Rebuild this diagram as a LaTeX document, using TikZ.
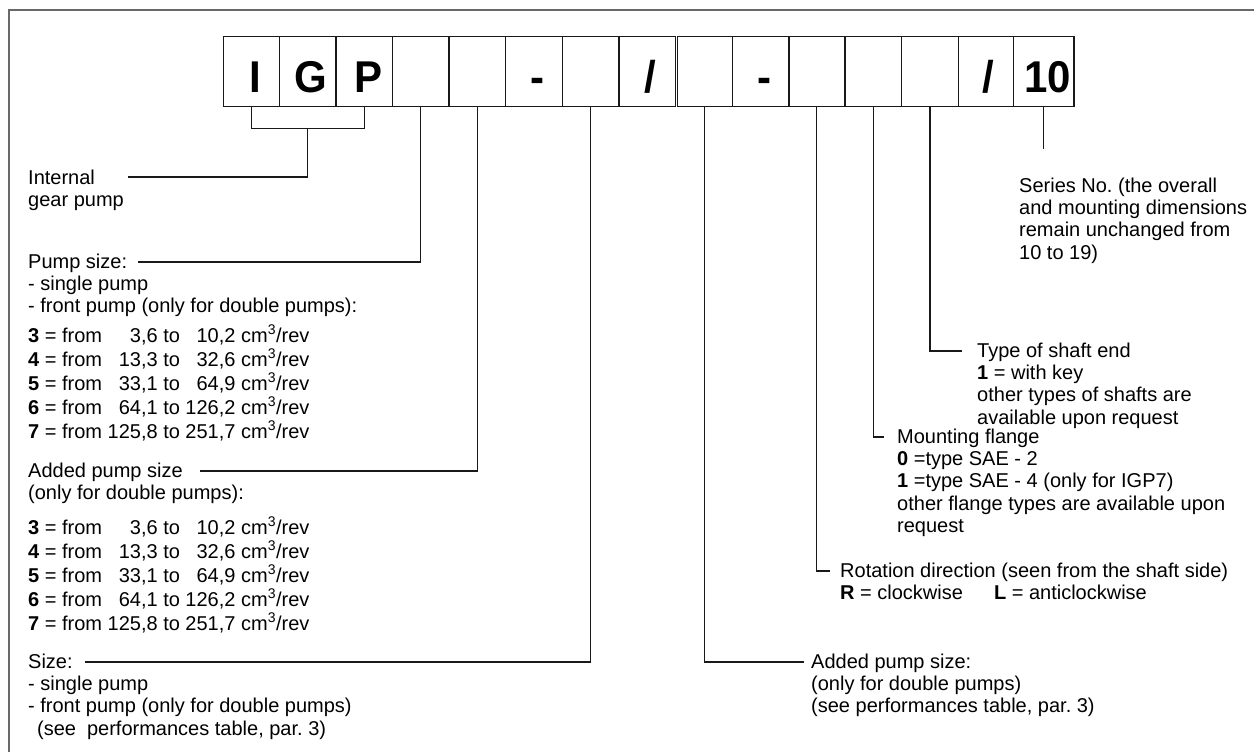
\documentclass[tikz,border=0pt]{standalone}
\usepackage{fontspec}
\setmainfont{Liberation Sans}
\usetikzlibrary{calc}
\frenchspacing
\newcommand\lbfont{\fontsize{20}{22.4}\selectfont}
\newcommand\bgfont{\fontsize{42}{42}\selectfont\bfseries}
\newcommand\bigtxt[1]{\scalebox{1}[1.06]{#1}}
\definecolor{framegray}{RGB}{105,105,105}
\definecolor{ink}{RGB}{25,25,25}
\begin{document}
\begin{tikzpicture}[x=1pt,y=-1pt,
  cell/.style={draw=ink,line width=1.2pt,minimum height=70pt,inner sep=0pt,anchor=north west},
  big/.style={anchor=base,inner sep=0pt,font=\bgfont},
  lbl/.style={anchor=base west,inner sep=0pt,font=\lbfont,align=left},
  conn/.style={draw=ink,line width=1.1pt}]
\useasboundingbox (0,0) rectangle (1254,752);
\draw[framegray,line width=2pt] (9,10) rectangle (1270,770);
% cells
\foreach \n/\a/\b in {1/222.7/279,2/279/335.3,3/335.3/392,4/392/448.3,5/448.3/505,6/505/561.7,7/561.7/618.3,8/618.3/675,9/676.7/731.7,10/731.7/788.3,11/788.3/844.3,12/844.3/901,13/901/957.7,14/957.7/1012.7,15/1012.7/1073.3}
  {\pgfmathsetmacro\w{\b-\a}\node[cell,minimum width=\w pt] (c\n) at (\a,36) {};}
\node[big] (t1) at ($(c1.center)+(4,20.7)$) {\bigtxt{I}};
\node[big] (t2) at ($(c2.center)+(3,20.7)$) {\bigtxt{G}};
\node[big] (t3) at ($(c3.center)+(4,20.7)$) {\bigtxt{P}};
\node[big] (t6) at ($(c6.center)+(4,20.7)$) {\bigtxt{-}};
\node[big] (t8) at ($(c8.center)+(3.5,20.7)$) {\bigtxt{/}};
\node[big] (t10) at ($(c10.center)+(4,20.7)$) {\bigtxt{-}};
\node[big] (t14) at ($(c14.center)+(3,20.7)$) {\bigtxt{/}};
\node[big] (t15) at ($(c15.center)+(4,20.7)$) {\bigtxt{10}};
% left texts
\node[lbl] (igp) at (28,184) {\begin{tabular}[t]{@{}l@{}}Internal\\gear pump\end{tabular}};
\node[lbl] (psz) at (28,268) {\begin{tabular}[t]{@{}l@{}}Pump size:\\- single pump\\- front pump (only for double pumps):\end{tabular}};
\node[lbl] (lst1) at (28,342) {\begin{tabular}[t]{@{}l@{~}r@{~to~}r@{~cm\textsuperscript{3}/rev}@{}}
\textbf{3} = from & 3,6 & 10,2\\ \textbf{4} = from & 13,3 & 32,6\\ \textbf{5} = from & 33,1 & 64,9\\
\textbf{6} = from & 64,1 & 126,2\\ \textbf{7} = from & 125,8 & 251,7\end{tabular}};
\node[lbl] (apz) at (28,477) {\begin{tabular}[t]{@{}l@{}}Added pump size\\(only for double pumps):\end{tabular}};
\node[lbl] (lst2) at (28,534) {\begin{tabular}[t]{@{}l@{~}r@{~to~}r@{~cm\textsuperscript{3}/rev}@{}}
\textbf{3} = from & 3,6 & 10,2\\ \textbf{4} = from & 13,3 & 32,6\\ \textbf{5} = from & 33,1 & 64,9\\
\textbf{6} = from & 64,1 & 126,2\\ \textbf{7} = from & 125,8 & 251,7\end{tabular}};
\node[lbl] (sz) at (28,668) {\begin{tabular}[t]{@{}l@{}}Size:\\- single pump\\- front pump (only for double pumps)\\\hspace{9pt}(see\hspace{11pt}performances table, par. 3)\end{tabular}};
% right texts
\node[lbl] (ser) at (1019,192) {\begin{tabular}[t]{@{}l@{}}Series No. (the overall\\and mounting dimensions\\remain unchanged from\\10 to 19)\end{tabular}};
\node[lbl] (sh) at (977,357) {\begin{tabular}[t]{@{}l@{}}Type of shaft end\\\textbf{1} = with key\\other types of shafts are\\available upon request\end{tabular}};
\node[lbl] (mf) at (897,443) {\begin{tabular}[t]{@{}l@{}}Mounting flange\\\textbf{0} =type SAE - 2\\\textbf{1} =type SAE - 4 (only for IGP7)\\other flange types are available upon\\request\end{tabular}};
\node[lbl] (rot) at (840,577) {\begin{tabular}[t]{@{}l@{}}Rotation direction (seen from the shaft side)\\\textbf{R} = clockwise\hspace{31pt}\textbf{L} = anticlockwise\end{tabular}};
\node[lbl] (ap2) at (811,668) {\begin{tabular}[t]{@{}l@{}}Added pump size:\\(only for double pumps)\\(see performances table, par. 3)\end{tabular}};
% connector end points
\coordinate (igp-e) at (128,177);
\coordinate (psz-e) at (138,262);
\coordinate (apz-e) at (200,471);
\coordinate (sz-e) at (85,662);
\coordinate (ap2-e) at (804,662);
\coordinate (rot-e) at (830,571);
\coordinate (mf-e) at (884,437);
\coordinate (sh-e) at (962,351);
% connectors
\draw[conn] (c1.south) -- ++(0,21.7) -| (c3.south);
\draw[conn] (c2.south |- 0,127.7) |- (igp-e);
\draw[conn] (c4.south) |- (psz-e);
\draw[conn] (c5.south) |- (apz-e);
\draw[conn] (c7.south) |- (sz-e);
\draw[conn] (c9.south) |- (ap2-e);
\draw[conn] (c11.south) |- (rot-e);
\draw[conn] (c12.south) |- (mf-e);
\draw[conn] (c13.south) |- (sh-e);
\draw[conn] (c15.south) -- ++(0,42);
\end{tikzpicture}
\end{document}
